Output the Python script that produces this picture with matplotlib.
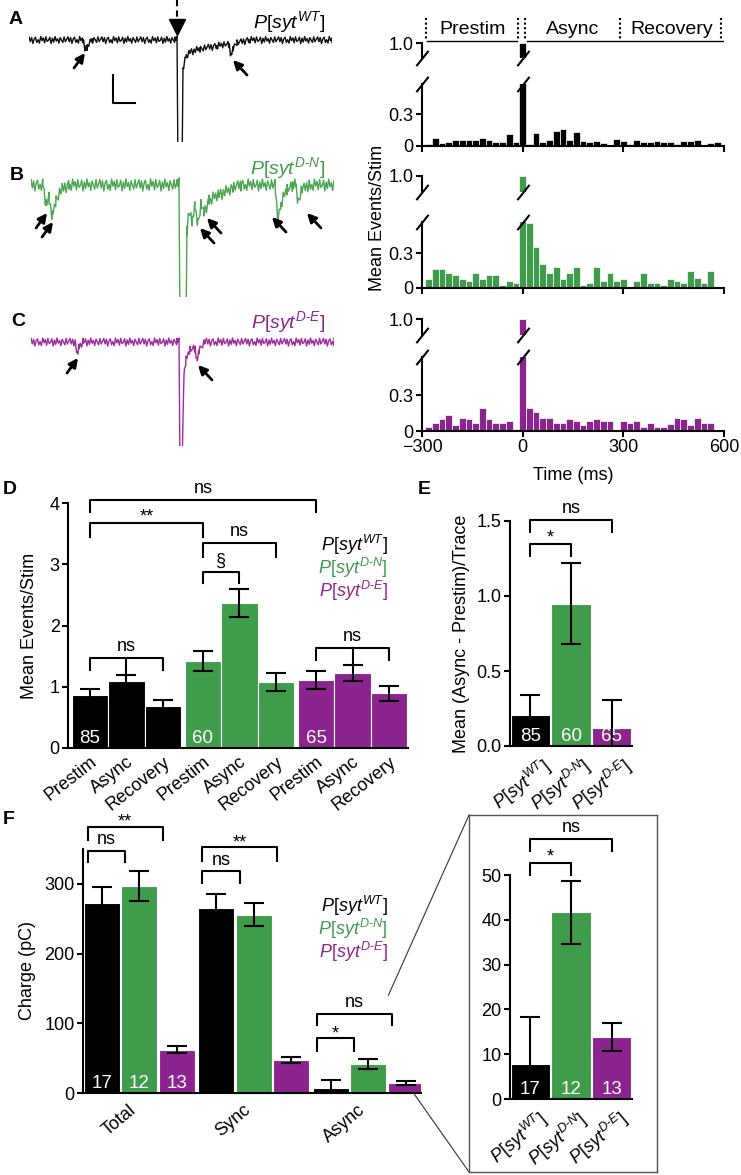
import numpy as np
import matplotlib
matplotlib.use('Agg')
import matplotlib.pyplot as plt
from matplotlib.patches import ConnectionPatch
from matplotlib.transforms import blended_transform_factory

plt.rcParams['font.family'] = ['Liberation Sans', 'DejaVu Sans']
plt.rcParams['font.size'] = 13
plt.rcParams['mathtext.fontset'] = 'custom'
plt.rcParams['mathtext.it'] = 'Liberation Sans:italic'
plt.rcParams['mathtext.rm'] = 'Liberation Sans'
plt.rcParams['mathtext.default'] = 'it'
plt.rcParams['axes.linewidth'] = 1.5

W, H = 741, 1175
colors = ['#000000', '#3f9c4a', '#8c2490']
trace_colors = ['#111111', '#4aa650', '#a02aa0']
genotypes = [r'$P[syt^{WT}]$', r'$P[syt^{D\text{-}N}]$', r'$P[syt^{D\text{-}E}]$']

# ---- representative traces (ms from stimulus, amplitude in px-like units) ----
trace_t = [
    [-148, -94, -92, -90, -85, -2, 0, 1, 5, 6, 9, 13, 23, 40, 52, 54, 56, 60, 72, 155],
    [-148, -136, -133, -130, -127, -123, -117, -110, -2, 0, 1, 7, 8, 10, 13, 16, 19, 22,
     25, 30, 40, 54, 62, 96, 99, 102, 108, 114, 117, 119, 123, 130, 155],
    [-148, -104, -102, -100, -96, -2, 0, 1, 3, 5, 7, 11, 16, 18, 20, 26, 155],
]
trace_v = [
    [0, 0, -10, -7, 0, 0, 3, -130, -130, -28, -17, -12, -9, -6, -4, -17, -8, -3, 0, 0],
    [0, 0, -20, -12, -32, -15, -4, 0, 0, 3, -140, -140, -45, -28, -35, -22, -38, -20,
     -28, -15, -10, -3, 0, 0, -37, -18, -5, 0, 0, -17, -5, 0, 0],
    [0, 0, -10, -6, 0, 0, 3, -130, -130, -30, -18, -8, -6, -20, -8, 0, 0],
]
trace_noise = [3.5, 6.0, 4.0]
noise_pattern = [0.2, 0.9, -0.5, 0.7, -1.0, 0.3, 0.8, -0.7, 0.1, -0.9, 1.0, -0.2, 0.6, -0.8,
                 0.9, -0.4, -0.1, 0.8, -1.0, 0.5, -0.6, 1.0, -0.3, 0.4, -0.9, 0.7, 0.0, -0.7,
                 0.9, -0.5]
# event arrows: (t, v) of head, direction
trace_arrows = [
    [(-92, -13, 'ur'), (56, -20, 'ul')],
    [(-132, -28, 'ur'), (-126, -37, 'ur'), (21, -43, 'ul'), (28, -33, 'ul'),
     (93, -32, 'ul'), (128, -28, 'ul')],
    [(-101, -16, 'ur'), (19, -23, 'ul')],
]

# ---- event histograms (20 ms bins) ----
bin_centers = np.arange(-280, 600, 20)
hist_wt = [0.02, 0.08, 0.025, 0.04, 0.055, 0.06, 0.06, 0.06, 0.08, 0.06, 0.04, 0.04, 0.11, 0.04,
           1.0,
           0.02, 0.12, 0.04, 0.06, 0.145, 0.16, 0.06, 0.13, 0.05, 0.04, 0.05, 0.025, 0.01, 0.07,
           0.05, 0.02, 0.06, 0.04, 0.04, 0.05, 0.04, 0.04, 0.02, 0.05, 0.05, 0.06, 0.0, 0.025, 0.04]
hist_dn = [0.077, 0.16, 0.16, 0.13, 0.11, 0.08, 0.06, 0.13, 0.08, 0.11, 0.11, 0.03, 0.06, 0.045,
           1.0,
           0.56, 0.35, 0.21, 0.13, 0.18, 0.08, 0.13, 0.18, 0.03, 0.045, 0.18, 0.06, 0.13, 0.06,
           0.08, 0.01, 0.06, 0.13, 0.045, 0.045, 0.03, 0.08, 0.06, 0.045, 0.15, 0.09, 0.045, 0.15, 0.005]
hist_de = [0.03, 0.07, 0.1, 0.13, 0.05, 0.11, 0.1, 0.07, 0.19, 0.1, 0.07, 0.07, 0.08, 0.015,
           1.0,
           0.19, 0.16, 0.11, 0.11, 0.07, 0.07, 0.1, 0.08, 0.05, 0.08, 0.1, 0.08, 0.08, 0.01,
           0.08, 0.07, 0.08, 0.035, 0.07, 0.03, 0.03, 0.055, 0.11, 0.1, 0.05, 0.11, 0.07, 0.07, 0.01]
hists = [hist_wt, hist_dn, hist_de]
epoch_names = ['Prestim', 'Async', 'Recovery']
epoch_mid = [-150, 150, 445]
epoch_marks = [-288, -14, 8, 290, 592]

# ---- D ----
d_mean = [[0.87, 1.10, 0.68], [1.42, 2.37, 1.08], [1.11, 1.23, 0.89]]
d_sem = [[0.10, 0.10, 0.10], [0.17, 0.23, 0.15], [0.15, 0.13, 0.12]]
d_n = [85, 60, 65]

# ---- E ----
e_mean = [0.21, 0.95, 0.12]
e_sem = [0.13, 0.27, 0.19]

# ---- F ----
charge_cats = ['Total', 'Sync', 'Async']
f_mean = [[273, 265, 7.8], [297, 256, 41.7], [62, 47, 13.9]]
f_sem = [[23, 21, 10.4], [22, 16, 7.0], [5, 4, 3.1]]
f_n = [17, 12, 13]

fig = plt.figure(figsize=(W / 100, H / 100), dpi=100)


def px_axes(x0, y0, x1, y1):
    return fig.add_axes([x0 / W, 1 - y1 / H, (x1 - x0) / W, (y1 - y0) / H])


def clean(ax):
    for s in ('top', 'right'):
        ax.spines[s].set_visible(False)
    ax.tick_params(direction='out', length=4, width=1.5, labelsize=13, pad=2)


def bracket(ax, x1, x2, y, y1, y2, label, off=1, mid=None):
    ax.plot([x1, x1, x2, x2], [y1, y, y, y2], color='k', lw=1.5, clip_on=False)
    if mid is not None:
        ax.plot([mid[0], mid[0]], [y, mid[1]], color='k', lw=1.5, clip_on=False)
    ax.annotate(label, ((x1 + x2) / 2, y), xytext=(0, off), textcoords='offset points',
                ha='center', va='bottom', fontsize=13, annotation_clip=False)


def nlabel(ax, x, n):
    ax.annotate(str(n), (x, 0), xytext=(0, 1), textcoords='offset points', ha='center',
                va='bottom', color='white', fontsize=13.5, annotation_clip=False)


# ================= traces A-C =================
trace_boxes = [(29, 0, 332, 142, 40), (31, 150, 334, 297, 35), (31, 305, 334, 446, 37)]
for i in range(3):
    x0, y0, x1, y1, top = trace_boxes[i]
    ax = px_axes(x0, y0, x1, y1)
    ax.set_xlim(-148, 155)
    ax.set_ylim(-(y1 - y0 - top), top)
    ax.axis('off')
    tg = np.sort(np.concatenate([np.arange(-148, 155, 1.3), trace_t[i]]))
    base = np.interp(tg, trace_t[i], trace_v[i])
    nz = np.resize(noise_pattern, len(tg)) * trace_noise[i]
    ax.plot(tg, base + nz, color=trace_colors[i], lw=1.0)
    for (th, vh, d) in trace_arrows[i]:
        dx = -11 if d == 'ur' else 14
        ax.annotate('', xy=(th, vh), xytext=(th + dx, vh - 15),
                    arrowprops=dict(arrowstyle='-|>', color='k', lw=2, mutation_scale=13,
                                    shrinkA=0, shrinkB=0), annotation_clip=False)
    if i == 0:
        ax.plot([0, 0], [40, 20], color='k', lw=1.5, ls=(0, (3, 2)), clip_on=False)
        ax.plot([0], [13], marker='v', ms=11, color='k', clip_on=False)
        ax.plot([-64, -64, -42], [-35, -63, -63], color='k', lw=1.5)
    fig.text(325 / W, 1 - (22, 168, 322)[i] / H, genotypes[i], ha='right', va='center',
             color=colors[i] if i else 'k', fontsize=14)

for lab, (x, y) in zip('ABCDEF', [(9, 19), (10, 175), (11, 322), (3, 490), (418, 490), (3, 820)]):
    fig.text(x / W, 1 - y / H, lab, fontsize=14, fontweight='bold', ha='left', va='center')

# ================= histograms =================
hist_rows = [(43, 58, 84, 146, 0.59), (176, 192, 222, 288, 0.57), (319, 335, 357, 431, 0.62)]
brk = dict(marker=[(-0.8, -1), (0.8, 1)], markersize=11, linestyle='none', color='k',
           mec='k', mew=1.5, clip_on=False)
for i in range(3):
    u0, u1, l0, l1, top = hist_rows[i]
    up = px_axes(422, u0, 724, u1)
    lo = px_axes(422, l0, 724, l1)
    for ax in (up, lo):
        ax.bar(bin_centers, hists[i], width=20, color=colors[i], edgecolor='white', linewidth=0.5)
        ax.set_xlim(-300, 600)
        clean(ax)
    up.set_ylim(0.86, 1.0)
    up.spines['bottom'].set_visible(False)
    up.set_xticks([])
    up.set_yticks([1.0])
    up.set_yticklabels(['1.0'])
    lo.set_ylim(0, top)
    lo.set_yticks([0, 0.3])
    lo.set_yticklabels(['0', '0.3'])
    lo.set_xticks([-300, 0, 300, 600])
    if i < 2:
        lo.set_xticklabels([])
    up.plot([0], [0], transform=up.transAxes, **brk)
    lo.plot([0], [1], transform=lo.transAxes, **brk)
    up.plot([0], [0], transform=blended_transform_factory(up.transData, up.transAxes), **brk)
    lo.plot([0], [1], transform=blended_transform_factory(lo.transData, lo.transAxes), **brk)

ann = px_axes(422, 10, 724, 46)
ann.set_xlim(-300, 600)
ann.set_ylim(46, 10)
ann.axis('off')
for xm in epoch_marks:
    ann.plot([xm, xm], [18, 40], color='k', lw=1.5, ls=(0, (1, 1.2)))
ann.plot([-284, -18], [41, 41], color='k', lw=1.0)
ann.plot([12, 598], [41, 41], color='k', lw=1.0)
for name, xm in zip(epoch_names, epoch_mid):
    ann.text(xm, 29, name, ha='center', va='center', fontsize=14)

fig.text(377 / W, 1 - 218 / H, 'Mean Events/Stim', rotation=90, ha='center', va='center', fontsize=13)
fig.text(573 / W, 1 - 475 / H, 'Time (ms)', ha='center', va='center', fontsize=13)

# ================= D =================
axd = px_axes(68, 503, 408, 748)
clean(axd)
dpos = []
for g in range(3):
    pos = g * 3.1 + np.arange(3) + 0.6
    dpos.append(pos)
    axd.bar(pos, d_mean[g], width=1.0, color=colors[g], edgecolor='white', linewidth=0.8)
    axd.errorbar(pos, d_mean[g], yerr=d_sem[g], fmt='none', ecolor='k', elinewidth=1.5,
                 capsize=7, capthick=1.5)
    nlabel(axd, pos[0], d_n[g])
axd.set_xlim(0, 9.32)
axd.set_ylim(0, 4)
axd.set_yticks([0, 1, 2, 3, 4])
axd.set_xticks(np.concatenate(dpos))
axd.set_xticklabels(epoch_names * 3, rotation=38, ha='right', rotation_mode='anchor')
axd.tick_params(axis='x', length=0, pad=4)
axd.set_ylabel('Mean Events/Stim', fontsize=13, labelpad=8)
bracket(axd, dpos[0][0], dpos[2][0], 4.05, 3.85, 3.85, 'ns', off=2)
bracket(axd, dpos[0][0], dpos[1][0], 3.68, 3.45, 3.45, '**', off=-2)
bracket(axd, dpos[1][0], dpos[1][2], 3.35, 3.12, 3.12, 'ns', off=2)
bracket(axd, dpos[1][0], dpos[1][1], 2.88, 2.70, 2.70, '§', off=1)
bracket(axd, dpos[0][0], dpos[0][2], 1.47, 1.28, 1.28, 'ns', off=2, mid=(dpos[0][1], 1.20))
bracket(axd, dpos[2][0], dpos[2][2], 1.63, 1.44, 1.44, 'ns', off=2, mid=(dpos[2][1], 1.36))
for g in range(3):
    fig.text(388 / W, 1 - (545 + 23 * g) / H, genotypes[g], color=colors[g], ha='right',
             va='center', fontsize=13)

# ================= E =================
axe = px_axes(510, 521, 632, 746)
clean(axe)
epos = np.arange(3) + 0.5
axe.bar(epos, e_mean, width=0.96, color=colors, edgecolor='white', linewidth=0.8)
axe.errorbar(epos, e_mean, yerr=e_sem, fmt='none', ecolor='k', elinewidth=1.5, capsize=7,
             capthick=1.5)
for g in range(3):
    nlabel(axe, epos[g], d_n[g])
axe.set_xlim(0, 3)
axe.set_ylim(0, 1.5)
axe.set_yticks([0, 0.5, 1.0, 1.5])
axe.set_yticklabels(['0.0', '0.5', '1.0', '1.5'])
axe.set_xticks(epos + 0.25)
axe.set_xticklabels(genotypes, rotation=38, ha='right', rotation_mode='anchor')
axe.tick_params(axis='x', length=0, pad=6)
axe.set_ylabel('Mean (Async - Prestim)/Trace', fontsize=13, labelpad=5)
bracket(axe, epos[0], epos[2], 1.51, 1.43, 1.43, 'ns', off=2)
bracket(axe, epos[0], epos[1], 1.35, 1.27, 1.27, '*', off=-2)

# ================= F =================
axf = px_axes(83, 849, 421, 1093)
clean(axf)
fpos = []
for g in range(3):
    pos = np.arange(3) * 3.05 + g + 0.5
    fpos.append(pos)
    axf.bar(pos, f_mean[g], width=0.96, color=colors[g], edgecolor='white', linewidth=0.8)
    axf.errorbar(pos, f_mean[g], yerr=f_sem[g], fmt='none', ecolor='k', elinewidth=1.5,
                 capsize=7, capthick=1.5)
    nlabel(axf, pos[0], f_n[g])
axf.set_xlim(0, 9.0)
axf.set_ylim(0, 350)
axf.set_yticks([0, 100, 200, 300])
axf.set_xticks(fpos[1] - 0.3)
axf.set_xticklabels(charge_cats, rotation=40, ha='right', rotation_mode='anchor')
axf.tick_params(axis='x', length=0, pad=6)
axf.set_ylabel('Charge (pC)', fontsize=13, labelpad=6)
sh = -0.38
bracket(axf, fpos[0][0] + sh, fpos[2][0] + sh, 382, 363, 363, '**', off=-3)
bracket(axf, fpos[0][0] + sh, fpos[1][0] + sh, 347, 331, 331, 'ns', off=2)
bracket(axf, fpos[0][1] + sh, fpos[2][1] + sh, 353, 333, 333, '**', off=-3)
bracket(axf, fpos[0][1] + sh, fpos[1][1] + sh, 318, 301, 301, 'ns', off=2)
bracket(axf, fpos[0][2] + sh, fpos[2][2] + sh, 113, 98, 98, 'ns', off=2)
bracket(axf, fpos[0][2] + sh, fpos[1][2] + sh, 79, 60, 60, '*', off=-3)
for g in range(3):
    fig.text(388 / W, 1 - (906 + 23 * g) / H, genotypes[g], color=colors[g], ha='right',
             va='center', fontsize=13)

# inset
frame = px_axes(469, 815, 657, 1172)
frame.set_xticks([])
frame.set_yticks([])
frame.patch.set_alpha(0)
for s in frame.spines.values():
    s.set_color('#555555')
    s.set_linewidth(1.0)
axi = px_axes(510, 875, 632, 1099)
clean(axi)
async_mean = [f_mean[g][2] for g in range(3)]
async_sem = [f_sem[g][2] for g in range(3)]
axi.bar(epos, async_mean, width=0.96, color=colors, edgecolor='white', linewidth=0.8)
axi.errorbar(epos, async_mean, yerr=async_sem, fmt='none', ecolor='k', elinewidth=1.5,
             capsize=7, capthick=1.5)
for g in range(3):
    nlabel(axi, epos[g], f_n[g])
axi.set_xlim(0, 3)
axi.set_ylim(0, 50)
axi.set_yticks([0, 10, 20, 30, 40, 50])
axi.set_xticks(epos + 0.15)
axi.set_xticklabels(genotypes, rotation=40, ha='right', rotation_mode='anchor')
axi.tick_params(axis='x', length=0, pad=6)
bracket(axi, epos[0], epos[2], 58, 55.4, 55.4, 'ns', off=2)
bracket(axi, epos[0], epos[1], 52.7, 50, 50, '*', off=-2)

for xyA, xyB in [((8.13, 140), (0, 1)), ((8.8, 0), (0, 0))]:
    con = ConnectionPatch(xyA=xyA, coordsA=axf.transData, xyB=xyB, coordsB=frame.transAxes,
                          color='#333333', lw=0.8)
    fig.add_artist(con)

fig.savefig('out.png', dpi=100)
